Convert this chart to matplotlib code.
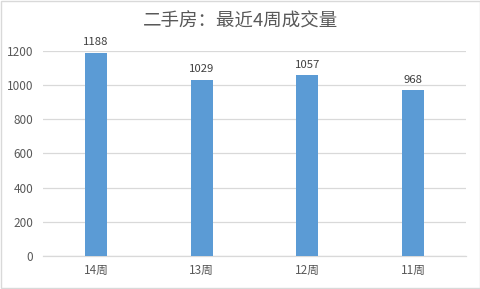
import matplotlib.pyplot as plt
from matplotlib.patches import Rectangle

plt.rcParams['font.family'] = ['Noto Sans CJK SC', 'DejaVu Sans']

# Dados
semanas = ['14周', '13周', '12周', '11周']
volume = [1188, 1029, 1057, 968]
yticks = [0, 200, 400, 600, 800, 1000, 1200]

texto = '#595959'
grade = '#D9D9D9'

fig = plt.figure(figsize=(4.81, 2.89), dpi=100)
ax = fig.add_axes([0.0894, 0.1142, 0.8794, 0.7104])

x = range(len(semanas))
barras = ax.bar(x, volume, width=0.21, color='#5B9BD5', zorder=3)
ax.bar_label(barras, labels=[str(v) for v in volume], padding=4,
             fontsize=8.2, color='#404040', clip_on=False)

ax.set_xlim(-0.5, len(semanas) - 0.5)
ax.set_ylim(0, 1200)
ax.set_yticks(yticks)
ax.set_xticks(list(x))
ax.set_xticklabels(semanas)
ax.grid(axis='y', color=grade, linewidth=0.9, zorder=0)
ax.tick_params(axis='both', length=0, labelsize=8.5, labelcolor=texto)
ax.tick_params(axis='y', pad=7)
ax.tick_params(axis='x', pad=6)
for lado in ['top', 'right', 'left']:
    ax.spines[lado].set_visible(False)
ax.spines['bottom'].set_color(grade)
ax.spines['bottom'].set_linewidth(0.9)

fig.text(0.5, 0.925, '二手房：最近4周成交量', ha='center', va='center',
         fontsize=13.3, color=texto)

# Borda externa
fig.patches.append(Rectangle((0.002, 0.003), 0.995, 0.994, transform=fig.transFigure,
                             fill=False, edgecolor=grade, linewidth=1))

fig.savefig('out.png', dpi=100)
